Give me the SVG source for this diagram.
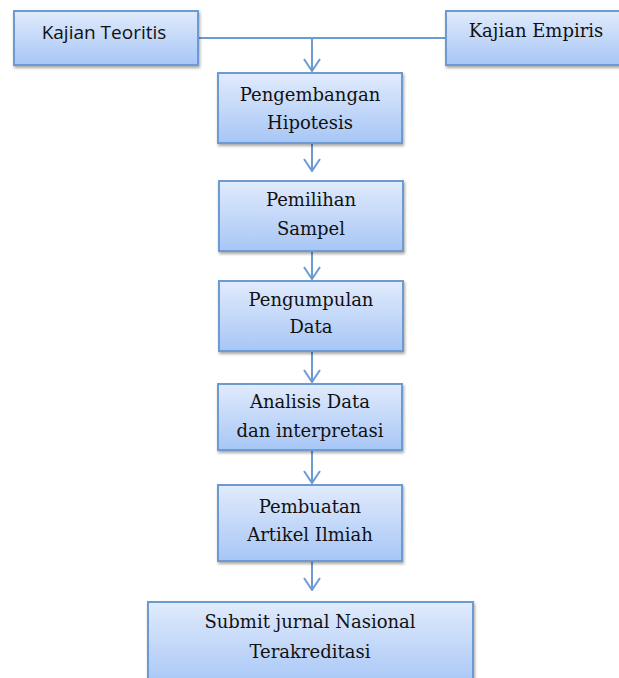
<svg xmlns="http://www.w3.org/2000/svg" width="619" height="678" viewBox="0 0 619 678">
<style>
.box{fill:url(#g);stroke:#6e9ad2;stroke-width:2}
.t{font-family:"DejaVu Serif","Liberation Serif",serif;font-size:18px;fill:#111;text-anchor:middle}
.s{font-family:"Open Sans","Liberation Sans",sans-serif;font-size:19px;fill:#111;text-anchor:middle}
.c{fill:none;stroke:#6e9ad2;stroke-width:2}
</style>
<defs>
<linearGradient id="g" x1="0" y1="0" x2="0" y2="1">
<stop offset="0" stop-color="#e1ebfc"/>
<stop offset="1" stop-color="#a7c6f6"/>
</linearGradient>
<filter id="sh" x="-10%" y="-10%" width="130%" height="140%">
<feDropShadow dx="1" dy="2" stdDeviation="1.5" flood-color="#000" flood-opacity="0.35"/>
</filter>
<marker id="a" markerWidth="14" markerHeight="18" refX="13" refY="9" orient="auto" markerUnits="userSpaceOnUse" viewBox="0 0 14 18">
<path d="M1,1 L13,9 L1,17" fill="none" stroke="#6e9ad2" stroke-width="2"/>
</marker>
</defs>
<g id="connectors">
<path class="c" d="M198,38 H446"/>
<path class="c" d="M312,38 V71" marker-end="url(#a)"/>
<path class="c" d="M312,143 V171" marker-end="url(#a)"/>
<path class="c" d="M312,251 V279" marker-end="url(#a)"/>
<path class="c" d="M312,351 V382" marker-end="url(#a)"/>
<path class="c" d="M312,450 V483" marker-end="url(#a)"/>
<path class="c" d="M312,561 V590" marker-end="url(#a)"/>
</g>
<g id="kajian-teoritis"><rect class="box" filter="url(#sh)" x="14" y="11" width="184" height="54"/><text class="s" x="104" y="39">Kajian Teoritis</text></g>
<g id="kajian-empiris"><rect class="box" filter="url(#sh)" x="446" y="11" width="180" height="54"/><text class="t" x="536" y="37">Kajian Empiris</text></g>
<g id="pengembangan"><rect class="box" filter="url(#sh)" x="218" y="73" width="184" height="70"/><text class="t" x="310" y="101">Pengembangan</text><text class="t" x="310" y="129">Hipotesis</text></g>
<g id="pemilihan"><rect class="box" filter="url(#sh)" x="219" y="181" width="184" height="70"/><text class="t" x="311" y="206">Pemilihan</text><text class="t" x="311" y="235">Sampel</text></g>
<g id="pengumpulan"><rect class="box" filter="url(#sh)" x="219" y="281" width="184" height="70"/><text class="t" x="311" y="306">Pengumpulan</text><text class="t" x="311" y="333">Data</text></g>
<g id="analisis"><rect class="box" filter="url(#sh)" x="218" y="384" width="184" height="66"/><text class="t" x="310" y="408">Analisis Data</text><text class="t" x="310" y="437">dan interpretasi</text></g>
<g id="pembuatan"><rect class="box" filter="url(#sh)" x="218" y="485" width="184" height="76"/><text class="t" x="310" y="513">Pembuatan</text><text class="t" x="310" y="541">Artikel Ilmiah</text></g>
<g id="submit"><rect class="box" filter="url(#sh)" x="148" y="602" width="325" height="84"/><text class="t" x="310" y="628">Submit jurnal Nasional</text><text class="t" x="310" y="658">Terakreditasi</text></g>
</svg>
